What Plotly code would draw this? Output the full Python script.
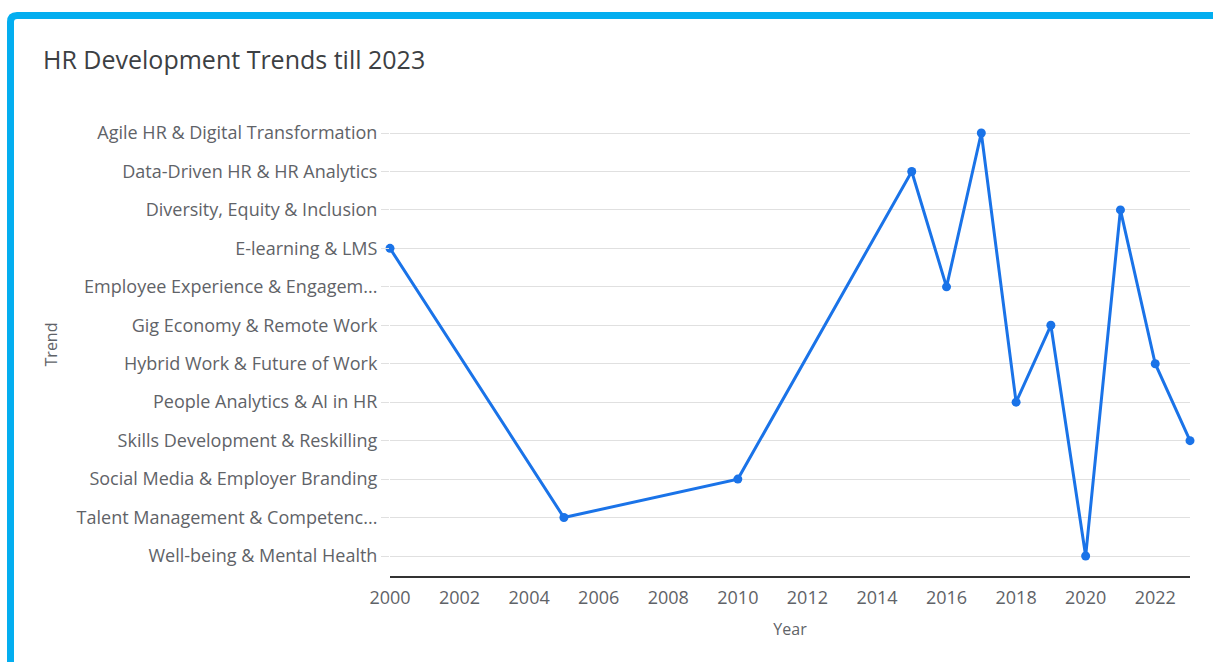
import plotly.graph_objects as go

years = [2000, 2005, 2010, 2015, 2016, 2017, 2018, 2019, 2020, 2021, 2022, 2023]
trends = [
    "E-learning & LMS",
    "Talent Management & Competency Development",
    "Social Media & Employer Branding",
    "Data-Driven HR & HR Analytics",
    "Employee Experience & Engagement",
    "Agile HR & Digital Transformation",
    "People Analytics & AI in HR",
    "Gig Economy & Remote Work",
    "Well-being & Mental Health",
    "Diversity, Equity & Inclusion",
    "Hybrid Work & Future of Work",
    "Skills Development & Reskilling",
]
categories = [
    "Agile HR & Digital Transformation",
    "Data-Driven HR & HR Analytics",
    "Diversity, Equity & Inclusion",
    "E-learning & LMS",
    "Employee Experience & Engagement",
    "Gig Economy & Remote Work",
    "Hybrid Work & Future of Work",
    "People Analytics & AI in HR",
    "Skills Development & Reskilling",
    "Social Media & Employer Branding",
    "Talent Management & Competency Development",
    "Well-being & Mental Health",
]
tick_labels = [
    "Agile HR & Digital Transformation",
    "Data-Driven HR & HR Analytics",
    "Diversity, Equity & Inclusion",
    "E-learning & LMS",
    "Employee Experience & Engagem...",
    "Gig Economy & Remote Work",
    "Hybrid Work & Future of Work",
    "People Analytics & AI in HR",
    "Skills Development & Reskilling",
    "Social Media & Employer Branding",
    "Talent Management & Competenc...",
    "Well-being & Mental Health",
]

W, H = 1213, 662
L, R, T, B = 390, 23, 113, 86
pw, ph = W - L - R, H - T - B

FONT = "Open Sans"
fig = go.Figure(go.Scatter(
    x=years, y=trends, mode="lines+markers",
    line=dict(color="#1a73e8", width=3),
    marker=dict(color="#1a73e8", size=9),
    cliponaxis=False,
))

def px_x(p):
    return (p - L) / pw

def px_y(p):
    return 1 - (p - T) / ph

fig.update_layout(
    width=W, height=H,
    margin=dict(l=L, r=R, t=T, b=B, pad=0),
    paper_bgcolor="white", plot_bgcolor="white",
    font=dict(family=FONT, color="#5f6368"),
    showlegend=False,
    title=dict(text="HR Development Trends till 2023", x=43 / W, xanchor="left",
               y=1 - 60 / H, yanchor="middle",
               font=dict(family=FONT, size=25, color="#3c4043")),
    xaxis=dict(
        range=[2000, 2023], dtick=2, tick0=2000,
        showgrid=False, zeroline=False,
        showline=True, linecolor="#333333", linewidth=1.5,
        tickfont=dict(size=18, color="#5f6368"),
        ticks="", ticklabelstandoff=5,
        title=dict(text="Year", font=dict(size=16, color="#5f6368"), standoff=15),
        fixedrange=True,
    ),
    yaxis=dict(
        type="category",
        categoryorder="array", categoryarray=categories[::-1],
        tickvals=categories, ticktext=tick_labels,
        range=[-0.52, len(categories) - 0.48],
        showgrid=True, gridcolor="#e0e0e0", gridwidth=1,
        zeroline=False, showline=False,
        ticks="outside", ticklen=8, tickcolor="#e0e0e0",
        tickfont=dict(size=18, color="#5f6368"),
        title=dict(text="Trend", font=dict(size=16, color="#5f6368"), standoff=14),
        fixedrange=True,
    ),
    shapes=[
        dict(type="path", xref="paper", yref="paper",
             path=(f"M {px_x(10.5)},{px_y(H + 20)} L {px_x(10.5)},{px_y(22)} "
                   f"Q {px_x(10.5)},{px_y(15.5)} {px_x(17)},{px_y(15.5)} "
                   f"L {px_x(W + 20)},{px_y(15.5)}"),
             line=dict(color="#03aef0", width=7), layer="above"),
    ],
)

fig.write_html("out.html")
